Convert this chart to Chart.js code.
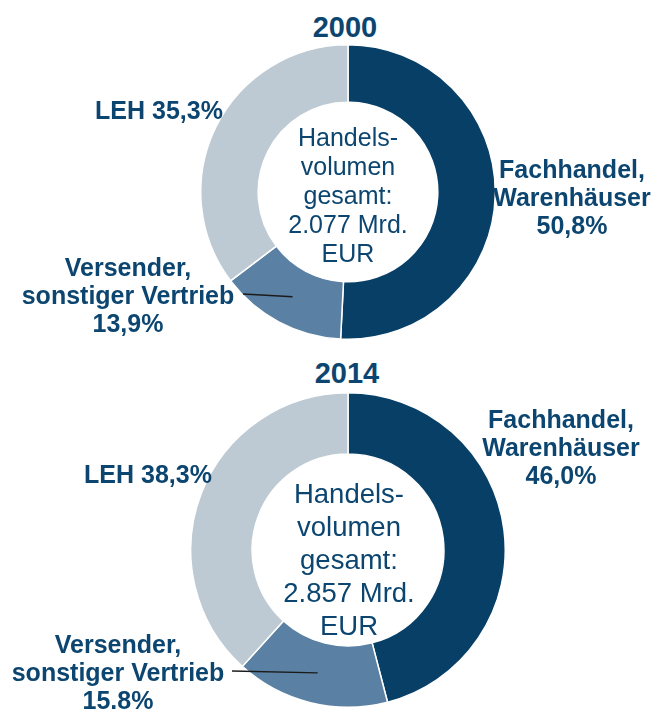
<!DOCTYPE html>
<html>
<head>
<meta charset="utf-8">
<script src="https://cdn.jsdelivr.net/npm/chart.js@4"></script>
<style>
  html, body { margin: 0; padding: 0; background: #fff; }
  body { width: 655px; height: 711px; position: relative; overflow: hidden;
         font-family: "Liberation Sans", Arial, sans-serif; color: #0c4670; }
  .box { position: absolute; }
  .title { position: absolute; font-weight: bold; font-size: 29px; line-height: 29px;
           width: 120px; text-align: center; }
  .lbl { position: absolute; font-weight: bold; font-size: 25px; line-height: 28px;
         text-align: center; white-space: nowrap; transform: translateX(-50%); }
  .mid { position: absolute; text-align: center; white-space: nowrap; transform: translateX(-50%); }
</style>
</head>
<body>

<div class="title" style="left:285px; top:13px;">2000</div>
<div class="box" style="left:200px; top:44px; width:296px; height:296px;"><canvas id="chart2000"></canvas></div>
<div class="mid" id="mid2000" style="left:348px; top:123px; font-size:25px; line-height:29px;"></div>
<div class="lbl" id="leh2000" style="left:159px; top:96px;"></div>
<div class="lbl" id="fach2000" style="left:572px; top:155px;"></div>
<div class="lbl" id="vers2000" style="left:128px; top:253px;"></div>

<div class="title" style="left:287px; top:359px;">2014</div>
<div class="box" style="left:190px; top:392px; width:316px; height:316px;"><canvas id="chart2014"></canvas></div>
<div class="mid" id="mid2014" style="left:349px; top:477px; font-size:27.5px; line-height:33px;"></div>
<div class="lbl" id="leh2014" style="left:148px; top:460px;"></div>
<div class="lbl" id="fach2014" style="left:561px; top:405px;"></div>
<div class="lbl" id="vers2014" style="left:118px; top:630px;"></div>

<script>
// Daten
const categories = ['Fachhandel, Warenhäuser', 'Versender, sonstiger Vertrieb', 'LEH'];
const values2000 = [50.8, 13.9, 35.3];
const values2014 = [46.0, 15.8, 38.3];
const pctText2000 = ['50,8%', '13,9%', '35,3%'];
const pctText2014 = ['46,0%', '15.8%', '38,3%'];
const totals = ['2.077', '2.857'];

const colors = ['#073f66', '#5a81a3', '#bdcad3'];

// Beschriftungen setzen
function fillLabels(year, pct, total) {
    document.getElementById('fach' + year).innerHTML = 'Fachhandel,<br>Warenhäuser<br>' + pct[0];
    document.getElementById('vers' + year).innerHTML = 'Versender,<br>sonstiger Vertrieb<br>' + pct[1];
    document.getElementById('leh' + year).textContent = 'LEH ' + pct[2];
    document.getElementById('mid' + year).innerHTML = 'Handels-<br>volumen<br>gesamt:<br>' + total + ' Mrd.<br>EUR';
}
fillLabels('2000', pctText2000, totals[0]);
fillLabels('2014', pctText2014, totals[1]);

// Linie vom Label zum Segment "Versender"
const leaderLine = {
    id: 'leaderLine',
    afterDatasetsDraw(chart, args, opts) {
        const arc = chart.getDatasetMeta(0).data[1];
        const p = arc.tooltipPosition();
        const ctx = chart.ctx;
        ctx.save();
        ctx.strokeStyle = '#1b1b1b';
        ctx.lineWidth = 1.3;
        ctx.beginPath();
        ctx.moveTo(opts.x, opts.y);
        ctx.lineTo(p.x, p.y);
        ctx.stroke();
        ctx.restore();
    }
};

function makeChart(id, values, lineStart) {
    new Chart(document.getElementById(id), {
        type: 'doughnut',
        data: {
            labels: categories,
            datasets: [{
                data: values,
                backgroundColor: colors,
                borderColor: '#ffffff',
                borderWidth: 1.5
            }]
        },
        options: {
            responsive: true,
            maintainAspectRatio: false,
            animation: false,
            cutout: '61%',
            layout: { padding: 0 },
            plugins: {
                legend: { display: false },
                tooltip: { enabled: false },
                leaderLine: lineStart
            }
        },
        plugins: [leaderLine]
    });
}

makeChart('chart2000', values2000, { x: 43, y: 250 });
makeChart('chart2014', values2014, { x: 42, y: 279 });
</script>
</body>
</html>
